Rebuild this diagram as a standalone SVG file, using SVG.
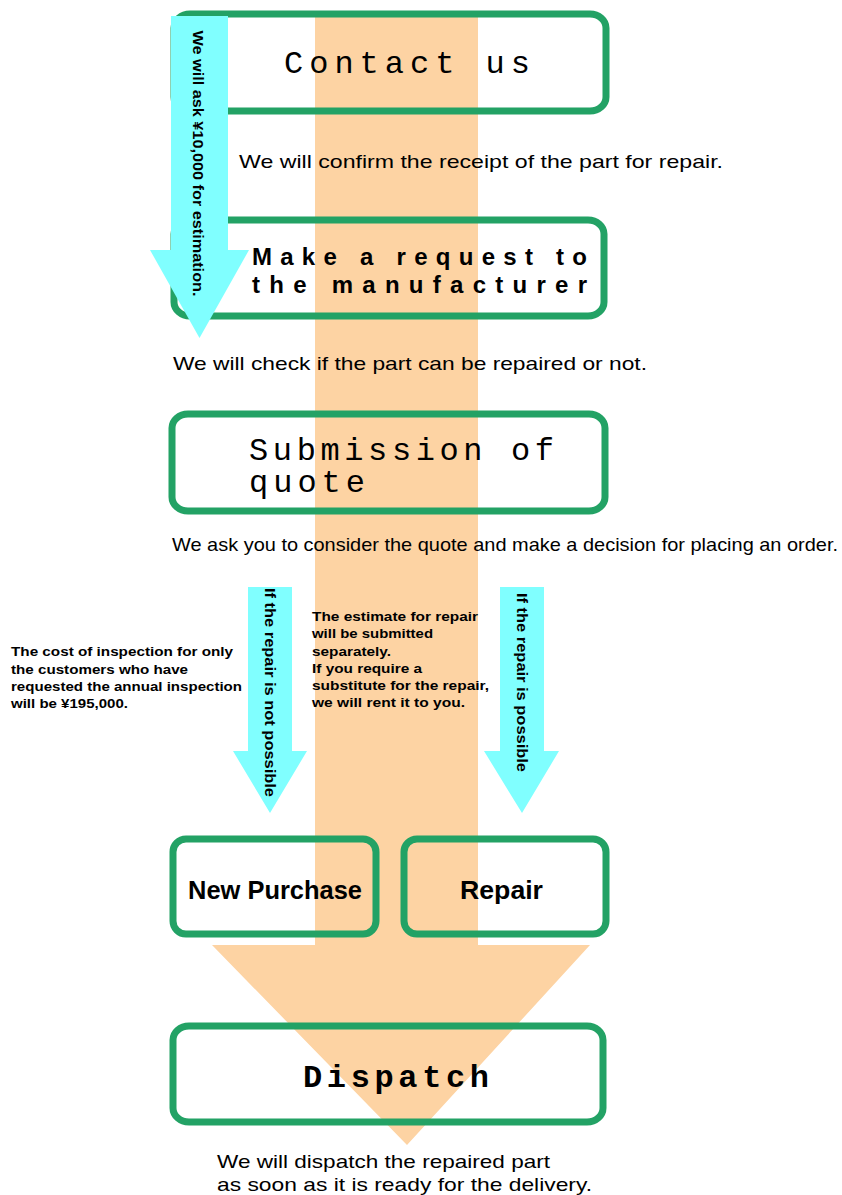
<svg xmlns="http://www.w3.org/2000/svg" width="842" height="1195" viewBox="0 0 842 1195">
<style>
.box{fill:none;stroke:#23a265;stroke-width:7}
.cy{fill:#80ffff}
.t{font-family:"Liberation Sans",Arial,sans-serif;fill:#000}
.n{font-size:19px}
.b{font-weight:bold;font-size:13.5px}
.v{font-weight:bold;font-size:14px}
.m{font-family:"Liberation Mono","DejaVu Sans Mono",monospace;font-size:32px;fill:#000}
</style>
<rect width="842" height="1195" fill="#ffffff"/>
<polygon id="flow" points="315,14 478,14 478,945 590,945 407,1145 212,945 315,945" fill="#fdd3a3"/>
<g id="n1"><rect class="box" x="174" y="14" width="432" height="97" rx="16" ry="14"/>
<text class="m" x="284" y="73" textLength="246" lengthAdjust="spacing">Contact us</text></g>
<g id="n2"><rect class="box" x="174" y="220" width="430" height="96" rx="16" ry="14"/>
<text class="t" font-size="24" font-weight="bold"><tspan x="252" y="265" textLength="335" lengthAdjust="spacing">Make a request to</tspan><tspan x="252" y="293" textLength="335" lengthAdjust="spacing">the manufacturer</tspan></text></g>
<g id="n3"><rect class="box" x="172" y="414" width="433" height="97" rx="16" ry="14"/>
<text class="m" font-size="30"><tspan x="249" y="460" textLength="305" lengthAdjust="spacing">Submission of</tspan><tspan x="249" y="492" textLength="116" lengthAdjust="spacing">quote</tspan></text></g>
<g id="n4"><rect class="box" x="173" y="839" width="203" height="95" rx="13" ry="13"/>
<text class="t" x="188" y="899" font-size="25" font-weight="bold" textLength="174" lengthAdjust="spacingAndGlyphs">New Purchase</text></g>
<g id="n5"><rect class="box" x="404" y="839" width="202" height="95" rx="13" ry="13"/>
<text class="t" x="460" y="899" font-size="25" font-weight="bold" textLength="83" lengthAdjust="spacingAndGlyphs">Repair</text></g>
<g id="n6"><rect class="box" x="173" y="1026" width="430" height="96" rx="16" ry="14"/>
<text class="m" x="303" y="1087" font-weight="bold" textLength="186" lengthAdjust="spacing">Dispatch</text></g>
<g id="connectors">
<polygon class="cy" points="171,16 228,16 228,250 249,250 199.5,338 150,250 171,250"/>
<polygon class="cy" points="248,587 292,587 292,751 307,751 270,813 233,751 248,751"/>
<polygon class="cy" points="500,587 544,587 544,751 559,751 522,813 484,751 500,751"/>
<text class="t v" transform="translate(198,163.5) rotate(90)" text-anchor="middle" dominant-baseline="central" textLength="266" lengthAdjust="spacingAndGlyphs">We will ask ¥10,000 for estimation.</text>
<text class="t v" transform="translate(270,692.5) rotate(90)" text-anchor="middle" dominant-baseline="central" textLength="209" lengthAdjust="spacingAndGlyphs">If the repair is not possible</text>
<text class="t v" transform="translate(522,682.5) rotate(90)" text-anchor="middle" dominant-baseline="central" textLength="179" lengthAdjust="spacingAndGlyphs">If the repair is possible</text>
</g>
<g id="notes">
<text class="t n" x="239" y="168" textLength="484" lengthAdjust="spacingAndGlyphs">We will confirm the receipt of the part for repair.</text>
<text class="t n" x="173" y="370" textLength="474" lengthAdjust="spacingAndGlyphs">We will check if the part can be repaired or not.</text>
<text class="t n" x="172" y="551" textLength="666" lengthAdjust="spacingAndGlyphs">We ask you to consider the quote and make a decision for placing an order.</text>
<text class="t n" x="217" y="1168" textLength="333" lengthAdjust="spacingAndGlyphs">We will dispatch the repaired part</text>
<text class="t n" x="217" y="1191" textLength="375" lengthAdjust="spacingAndGlyphs">as soon as it is ready for the delivery.</text>
<text class="t b" x="11" y="656" textLength="222" lengthAdjust="spacingAndGlyphs">The cost of inspection for only</text>
<text class="t b" x="11" y="673.5" textLength="177" lengthAdjust="spacingAndGlyphs">the customers who have</text>
<text class="t b" x="11" y="691" textLength="231" lengthAdjust="spacingAndGlyphs">requested the annual inspection</text>
<text class="t b" x="11" y="708" textLength="117" lengthAdjust="spacingAndGlyphs">will be ¥195,000.</text>
<text class="t b" x="312" y="621" textLength="166" lengthAdjust="spacingAndGlyphs">The estimate for repair</text>
<text class="t b" x="312" y="638" textLength="121" lengthAdjust="spacingAndGlyphs">will be submitted</text>
<text class="t b" x="312" y="655.5" textLength="79" lengthAdjust="spacingAndGlyphs">separately.</text>
<text class="t b" x="312" y="673" textLength="110" lengthAdjust="spacingAndGlyphs">If you require a</text>
<text class="t b" x="312" y="690" textLength="177" lengthAdjust="spacingAndGlyphs">substitute for the repair,</text>
<text class="t b" x="312" y="707" textLength="153" lengthAdjust="spacingAndGlyphs">we will rent it to you.</text>
</g>
</svg>
